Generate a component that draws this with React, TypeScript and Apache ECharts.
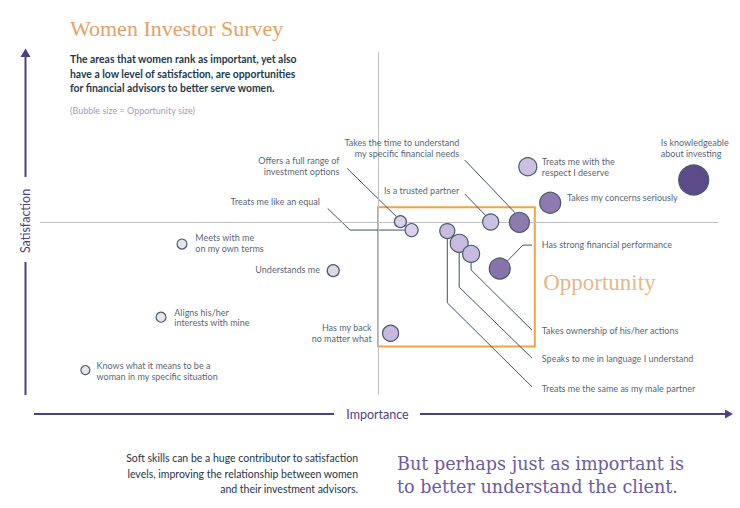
import React, { useEffect, useRef } from "react";
import * as echarts from "echarts";

// Bubble data: importance (x, 0-100), satisfaction (y, 0-100), opportunity size
const names = [
  "Is knowledgeable about investing",
  "Treats me with the respect I deserve",
  "Takes my concerns seriously",
  "Takes the time to understand my specific financial needs",
  "Is a trusted partner",
  "Offers a full range of investment options",
  "Treats me like an equal",
  "Treats me the same as my male partner",
  "Speaks to me in language I understand",
  "Takes ownership of his/her actions",
  "Has strong financial performance",
  "Has my back no matter what",
  "Understands me",
  "Meets with me on my own terms",
  "Aligns his/her interests with mine",
  "Knows what it means to be a woman in my specific situation",
];
const importance = [95.1, 71.4, 74.6, 70.2, 66.1, 53.2, 54.8, 59.9, 61.6, 63.3, 67.4, 51.8, 43.6, 22.0, 19.0, 8.2];
const satisfaction = [62.0, 65.8, 55.5, 49.9, 50.0, 50.1, 47.7, 47.4, 43.9, 40.9, 36.7, 18.2, 36.1, 43.7, 22.8, 7.7];
const opportunity = [15, 9, 10.5, 10, 8, 6, 6.5, 7.5, 9, 8.5, 10.5, 8, 6, 5, 5, 4.5];
const fills = [
  "#5d4a88", "#cdc1e3", "#8d7bb0", "#8d7bb0", "#cbbfe2", "#d9d1ea", "#d9d1ea", "#c9bbe0",
  "#c9bbe0", "#c9bbe0", "#8673aa", "#c6b8df", "#dcd9e6", "#e6e6ea", "#e6e6ea", "#e6e6ea",
];

// Annotation labels (data coordinates)
const labelTexts = [
  "Takes the time to understand\nmy specific financial needs",
  "Offers a full range of\ninvestment options",
  "Is a trusted partner",
  "Treats me like an equal",
  "Treats me with the\nrespect I deserve",
  "Is knowledgeable\nabout investing",
  "Takes my concerns seriously",
  "Has strong financial performance",
  "Takes ownership of his/her actions",
  "Speaks to me in language I understand",
  "Treats me the same as my male partner",
  "Has my back\nno matter what",
  "Meets with me\non my own terms",
  "Understands me",
  "Aligns his/her\ninterests with mine",
  "Knows what it means to be a\nwoman in my specific situation",
];
const labelX = [61.6, 44.5, 61.6, 41.7, 73.4, 90.4, 77.0, 73.4, 73.4, 73.4, 73.4, 49.1, 23.9, 41.7, 20.9, 9.8];
const labelY = [71.1, 66.1, 59.1, 55.8, 65.7, 71.1, 56.9, 43.7, 18.9, 10.9, 2.4, 18.3, 43.9, 36.3, 22.7, 7.5];
const labelAlign = ["right", "right", "right", "right", "left", "left", "left", "left", "left", "left", "left", "right", "left", "right", "left", "left"];

// Leader lines (data coordinates)
const leaders: number[][][] = [
  [[62.4, 67.7], [69.6, 52.6]],
  [[62.4, 58.0], [65.5, 51.6]],
  [[45.6, 65.3], [52.6, 51.6]],
  [[42.8, 53.9], [46.0, 47.7], [53.9, 47.7]],
  [[59.9, 45.3], [59.9, 26.9], [72.0, 2.9]],
  [[61.6, 41.4], [61.6, 31.4], [72.0, 11.1]],
  [[63.3, 38.5], [63.3, 36.3], [72.0, 19.1]],
  [[68.5, 38.9], [70.7, 43.4], [72.0, 43.4]],
];

// Quadrant lines & opportunity box
const midValue = 50;
const boxFrom = [50, 54.2];
const boxTo = [72.4, 14.4];

const SANS = "'Liberation Sans Narrow', Lato, sans-serif";
const SERIF = "'Liberation Serif', serif";
const TEXT = "#1f3548";
const PURPLE = "#4e3f80";
const ORANGE = "#e3a168";

export default function App() {
  const ref = useRef<HTMLDivElement>(null);
  useEffect(() => {
    document.body.style.margin = "0";
    const chart = echarts.init(ref.current!, undefined, { renderer: "svg" });
    chart.setOption({
      animation: false,
      backgroundColor: "#ffffff",
      grid: { left: 28, top: 47, width: 700, height: 350 },
      xAxis: { type: "value", min: 0, max: 100, show: false },
      yAxis: { type: "value", min: 0, max: 100, show: false },
      series: [
        {
          type: "scatter",
          data: [],
          z: 1,
          silent: true,
          markLine: {
            silent: true,
            symbol: "none",
            label: { show: false },
            lineStyle: { color: "#c0c0c0", width: 1, type: "solid" },
            data: [
              [{ coord: [1.7, midValue] }, { coord: [98.6, midValue] }],
              [{ coord: [midValue, 98.6] }, { coord: [midValue, 0.6] }],
            ],
          },
          markArea: {
            silent: true,
            itemStyle: { color: "rgba(0,0,0,0)", borderColor: "#f0a446", borderWidth: 2 },
            data: [[{ coord: boxFrom }, { coord: boxTo }]],
          },
        },
        {
          type: "lines",
          coordinateSystem: "cartesian2d",
          polyline: true,
          silent: true,
          z: 2,
          lineStyle: { color: "#3e5266", width: 1, opacity: 1 },
          data: leaders.map((c) => ({ coords: c })),
        },
        {
          type: "scatter",
          z: 5,
          symbolSize: (v: number[]) => v[2] * 2,
          itemStyle: { borderColor: "#4a5a6c", borderWidth: 1.2, opacity: 1 },
          data: names.map((n, i) => ({
            name: n,
            value: [importance[i], satisfaction[i], opportunity[i]],
            itemStyle: { color: fills[i] },
          })),
        },
        {
          type: "scatter",
          z: 6,
          silent: true,
          symbolSize: 0,
          itemStyle: { color: "rgba(0,0,0,0)" },
          data: labelTexts.map((t, i) => ({
            value: [labelX[i], labelY[i]],
            label: {
              show: true,
              formatter: t,
              position: [0, 0],
              align: labelAlign[i],
              verticalAlign: "middle",
              color: TEXT,
              fontFamily: SANS,
              fontSize: 9,
              lineHeight: 10.8,
            },
          })),
        },
        {
          type: "scatter",
          z: 6,
          silent: true,
          symbolSize: 0,
          itemStyle: { color: "rgba(0,0,0,0)" },
          data: [
            {
              value: [73.6, 32.6],
              label: {
                show: true,
                formatter: "Opportunity",
                position: [0, 0],
                align: "left",
                verticalAlign: "middle",
                color: ORANGE,
                fontFamily: SERIF,
                fontSize: 23,
              },
            },
          ],
        },
      ],
      graphic: [
        {
          type: "text",
          left: 70,
          top: 17,
          style: { text: "Women Investor Survey", fill: ORANGE, font: `22px ${SERIF}` },
        },
        {
          type: "text",
          left: 70,
          top: 52,
          style: {
            text: "The areas that women rank as important, yet also\nhave a low level of satisfaction, are opportunities\nfor financial advisors to better serve women.",
            fill: "#1f3a4d",
            fontFamily: SANS,
            fontSize: 10.4,
            fontWeight: "bold",
            lineHeight: 14.5,
          },
        },
        {
          type: "text",
          left: 70,
          top: 106,
          style: { text: "(Bubble size = Opportunity size)", fill: "#a69cba", fontFamily: SANS, fontSize: 9 },
        },
        // vertical axis
        { type: "line", shape: { x1: 25.5, y1: 177, x2: 25.5, y2: 56 }, style: { stroke: PURPLE, lineWidth: 2 } },
        { type: "polygon", shape: { points: [[20.5, 57], [30.5, 57], [25.5, 48.5]] }, style: { fill: PURPLE } },
        { type: "line", shape: { x1: 25.5, y1: 262, x2: 25.5, y2: 395 }, style: { stroke: PURPLE, lineWidth: 2 } },
        {
          type: "text",
          x: 25.5,
          y: 221,
          rotation: Math.PI / 2,
          style: { text: "Satisfaction", fill: PURPLE, fontFamily: SANS, fontSize: 12.5, align: "center", verticalAlign: "middle" },
        },
        // horizontal axis
        { type: "line", shape: { x1: 34, y1: 414, x2: 334, y2: 414 }, style: { stroke: PURPLE, lineWidth: 2 } },
        { type: "line", shape: { x1: 420, y1: 414, x2: 726, y2: 414 }, style: { stroke: PURPLE, lineWidth: 2 } },
        { type: "polygon", shape: { points: [[725, 409.5], [725, 418.5], [733, 414]] }, style: { fill: PURPLE } },
        {
          type: "text",
          x: 377.5,
          y: 414,
          style: { text: "Importance", fill: PURPLE, fontFamily: SANS, fontSize: 12.5, align: "center", verticalAlign: "middle" },
        },
        // bottom texts
        {
          type: "text",
          x: 358,
          y: 473.5,
          style: {
            text: "Soft skills can be a huge contributor to satisfaction\nlevels, improving the relationship between women\nand their investment advisors.",
            fill: TEXT,
            fontFamily: SANS,
            fontSize: 10.5,
            lineHeight: 15.5,
            align: "right",
            verticalAlign: "middle",
          },
        },
        {
          type: "text",
          x: 397,
          y: 475.5,
          style: {
            text: "But perhaps just as important is\nto better understand the client.",
            fill: "#6b5ba0",
            font: "17.6px 'DejaVu Serif', serif",
            lineHeight: 23,
            align: "left",
            verticalAlign: "middle",
          },
        },
      ],
    });
    return () => chart.dispose();
  }, []);
  return <div ref={ref} style={{ width: 740, height: 508 }} />;
}
